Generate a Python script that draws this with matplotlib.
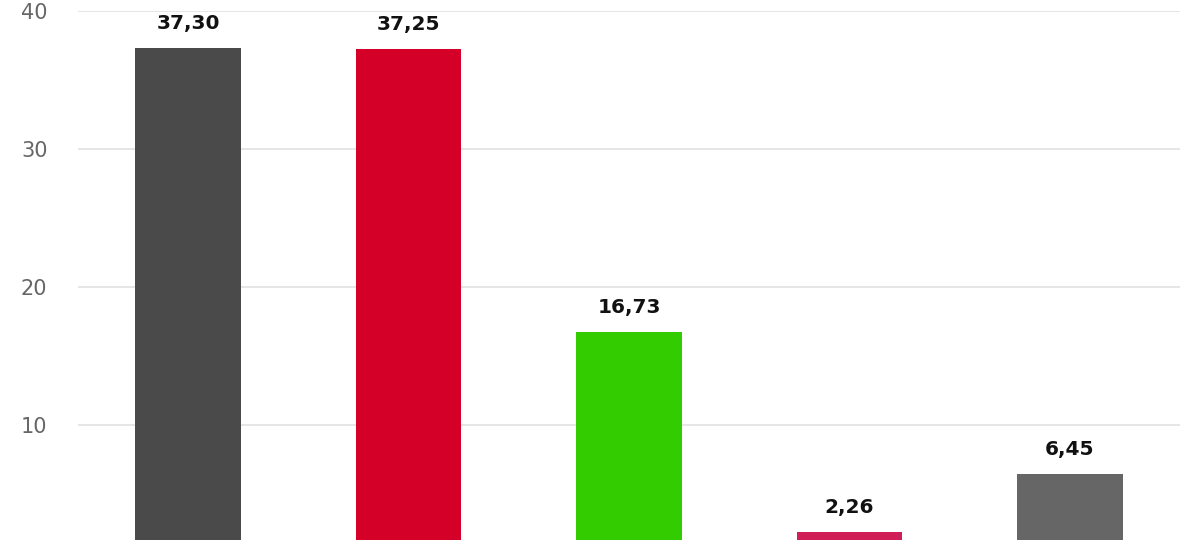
import matplotlib
matplotlib.use("Agg")
import matplotlib.pyplot as plt

# values
categories = ["A", "B", "C", "D", "E"]
values = [37.30, 37.25, 16.73, 2.26, 6.45]
colors = ["#4a4a4a", "#d50027", "#33cc00", "#d01f58", "#666666"]
yticks = [10, 20, 30, 40]

fig = plt.figure(figsize=(12, 5.4), dpi=100)
ax = fig.add_axes([78 / 1200, 0, 1102 / 1200, 529 / 540])

x = range(len(values))
ax.bar(x, values, width=0.48, color=colors, zorder=2)

for xi, v in zip(x, values):
    ax.annotate(f"{v:.2f}".replace(".", ","), (xi, v), xytext=(0, 15),
                textcoords="offset pixels", ha="center", va="bottom",
                fontsize=14.5, fontweight="bold", color="#111111",
                annotation_clip=False)

ax.set_xlim(-0.5, 4.5)
ax.set_ylim(40 - 529 / 13.8, 40)
ax.set_yticks(yticks)
ax.set_xticks([])
ax.tick_params(axis="y", length=0, pad=22, labelsize=15, labelcolor="#666666")
ax.grid(axis="y", color="#e2e2e2", linewidth=1.2, zorder=0)
for s in ax.spines.values():
    s.set_visible(False)

fig.savefig("out.png", dpi=100)
